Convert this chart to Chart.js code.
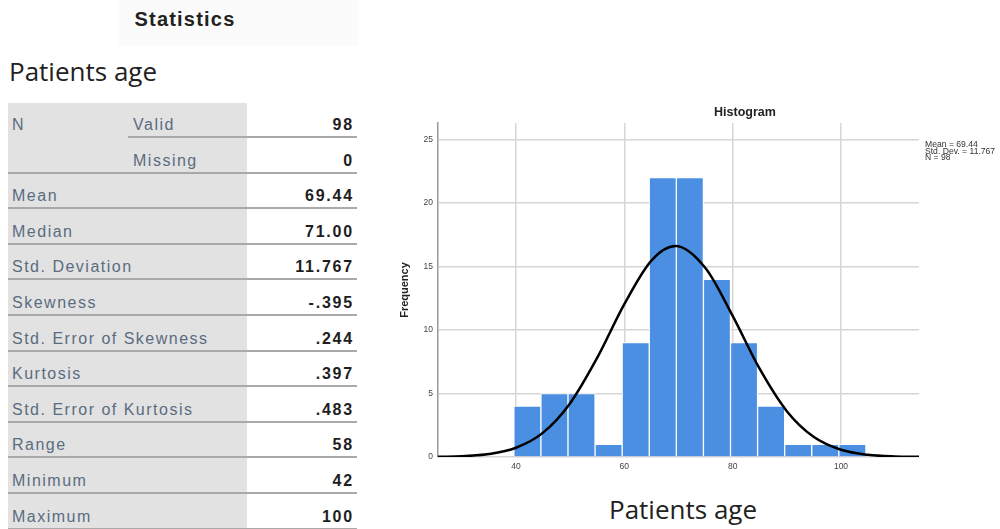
<!DOCTYPE html>
<html>
<head>
<meta charset="utf-8">
<script src="https://cdn.jsdelivr.net/npm/chart.js@4.4.1/dist/chart.umd.min.js"></script>
<style>
  body { margin: 0; width: 1000px; height: 529px; position: relative; overflow: hidden; background: #fff; font-family: "Liberation Sans", Arial, sans-serif; }
  .abs { position: absolute; white-space: nowrap; }
  #statsHead { left: 118px; top: 0; width: 240px; height: 46px; background: #fbfbfb; }
  #statsTitle { left: 122px; top: 8px; width: 126px; text-align: center; font-weight: bold; font-size: 20px; letter-spacing: 1.2px; color: #222; }
  .big { font-family: "Open Sans", sans-serif; font-size: 26px; color: #222; }
  #grayCol { left: 8px; top: 103px; width: 239px; height: 426px; background: #e2e2e2; }
  .lbl { font-size: 16px; letter-spacing: 1.5px; color: #5a6c80; }
  .val { font-size: 16px; letter-spacing: 1.8px; color: #1e1e1e; text-align: right; width: 140px; font-weight: bold; -webkit-text-stroke: 0; }
  .rule { height: 2px; background: #a9a9a9; }
  #chartBox { left: 380px; top: 100px; width: 620px; height: 380px; }
  #histTitle { left: 680px; top: 105px; width: 130px; text-align: center; font-weight: bold; font-size: 12.5px; color: #222; }
  #histStats { left: 925px; top: 141px; font-size: 8.6px; line-height: 6.6px; color: #333; }
</style>
</head>
<body>
<div id="statsHead" class="abs"></div>
<div id="statsTitle" class="abs">Statistics</div>
<div class="abs big" style="left:9px;top:53px;">Patients age</div>
<div id="grayCol" class="abs"></div>
<div id="table"></div>

<div id="chartBox" class="abs"><canvas id="hist"></canvas></div>
<div id="histTitle" class="abs">Histogram</div>
<div id="histStats" class="abs">Mean = 69.44<br>Std. Dev. = 11.767<br>N = 98</div>
<div class="abs big" style="left:609px;top:491px;">Patients age</div>

<script>
// statistics table
const statGroups = ['N', '', 'Mean', 'Median', 'Std. Deviation', 'Skewness', 'Std. Error of Skewness',
                    'Kurtosis', 'Std. Error of Kurtosis', 'Range', 'Minimum', 'Maximum'];
const statSub = ['Valid', 'Missing'];
const statValues = ['98', '0', '69.44', '71.00', '11.767', '-.395', '.244', '.397', '.483', '58', '42', '100'];

// histogram of patient age (bin lower edges, width 5)
const binLo = [39.6, 44.6, 49.6, 54.6, 59.6, 64.6, 69.6, 74.6, 79.6, 84.6, 89.6, 94.6, 99.6];
const binCounts = [4, 5, 5, 1, 9, 22, 22, 14, 9, 4, 1, 1, 1];
const binWidth = 5;

// fitted normal curve read along the age axis
const curveX = [25.6, 30, 35, 40, 45, 50, 55, 60, 65, 69.44, 75, 80, 85, 90, 95, 100, 105, 110, 114.4];
const curveY = [0.02, 0.06, 0.23, 0.73, 1.92, 4.24, 7.82, 12.04, 15.47, 16.61, 14.86, 11.11, 6.93, 3.61, 1.57, 0.57, 0.17, 0.04, 0.01];

const xTicks = [40, 60, 80, 100];
const yTicks = [0, 5, 10, 15, 20, 25];

(function buildTable() {
  const host = document.getElementById('table');
  const rowH = 35.6;
  let html = '';
  statValues.forEach((v, i) => {
    const textTop = 116 + rowH * i;
    const ruleTop = 136 + rowH * i;
    if (statGroups[i]) html += `<div class="abs lbl" style="left:12px;top:${textTop}px">${statGroups[i]}</div>`;
    if (i < statSub.length) html += `<div class="abs lbl" style="left:133px;top:${textTop}px">${statSub[i]}</div>`;
    html += `<div class="abs val" style="left:214px;top:${textTop}px">${v}</div>`;
    const ruleLeft = i === 0 ? 128 : 8;
    html += `<div class="abs rule" style="left:${ruleLeft}px;top:${ruleTop}px;width:${357 - ruleLeft}px"></div>`;
  });
  host.innerHTML = html;
})();

const bars = binLo.map((lo, i) => ({ x: lo + binWidth / 2, y: binCounts[i] }));
const curve = curveX.map((x, i) => ({ x: x, y: curveY[i] }));

new Chart(document.getElementById('hist'), {
  type: 'bar',
  data: {
    datasets: [
      {
        type: 'line',
        data: curve,
        borderColor: '#000',
        borderWidth: 2.5,
        pointRadius: 0,
        cubicInterpolationMode: 'monotone',
        order: 0
      },
      {
        type: 'bar',
        data: bars,
        backgroundColor: '#4a8fe2',
        borderColor: '#ffffff',
        borderWidth: 1,
        barPercentage: 1,
        categoryPercentage: 1,
        order: 1
      }
    ]
  },
  options: {
    responsive: true,
    maintainAspectRatio: false,
    animation: false,
    layout: { padding: { left: 15, top: 23, right: 81, bottom: 0 } },
    plugins: { legend: { display: false }, tooltip: { enabled: false } },
    scales: {
      x: {
        type: 'linear',
        min: 25.6,
        max: 114.4,
        offset: false,
        afterBuildTicks: s => { s.ticks = xTicks.map(v => ({ value: v })); },
        afterFit: s => { s.height = 23; },
        grid: { color: '#d6d6d6', lineWidth: 1.5, drawTicks: false, offset: false },
        border: { display: false },
        ticks: { color: '#444', font: { size: 8.5 }, padding: 5 }
      },
      y: {
        min: 0,
        max: 26.3,
        afterBuildTicks: s => { s.ticks = yTicks.map(v => ({ value: v })); },
        afterFit: s => { s.width = 43; },
        grid: { color: '#d6d6d6', lineWidth: 1.5, drawTicks: false },
        border: { color: '#9a9a9a', width: 1.5 },
        ticks: { color: '#444', font: { size: 8.5 }, padding: 5 },
        title: { display: true, text: 'Frequency', color: '#222', font: { size: 11, weight: 'bold' }, padding: { top: 3, bottom: 0 } }
      }
    }
  }
});
</script>
</body>
</html>
